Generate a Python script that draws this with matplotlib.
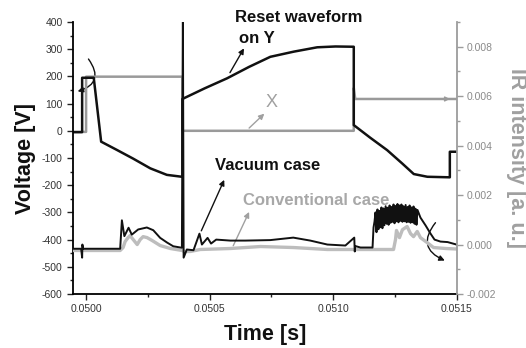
import matplotlib
matplotlib.use("Agg")
import matplotlib.pyplot as plt
from matplotlib.ticker import MultipleLocator, FormatStrFormatter
from matplotlib.patches import FancyArrowPatch

plt.rcParams['font.family'] = ['Liberation Sans', 'DejaVu Sans']
plt.rcParams['axes.unicode_minus'] = False

# ---- Reset waveform on Y (left axis, V) ----
t_y = [0.04995, 0.049984, 0.049984, 0.050031, 0.050061, 0.050124, 0.050190, 0.050260,
       0.050327, 0.050388, 0.05039, 0.05039, 0.050480, 0.050571, 0.050660, 0.050746,
       0.050841, 0.050936, 0.051010, 0.051084, 0.051084, 0.051150, 0.051219, 0.051280,
       0.051327, 0.051382, 0.051473, 0.051473, 0.0515]
v_y = [-5, -5, 195, 195, -40, -70, -102, -138,
       -162, -169, -170, 117, 156, 193, 235, 272,
       291, 307, 310, 309, 21, -25, -71, -120,
       -159, -169, -171, -77, -77]

# ---- X waveform (left axis, V) ----
t_x = [0.04995, 0.05, 0.05, 0.05039, 0.05039, 0.051084, 0.051084, 0.051090, 0.0515]
v_x = [-4, -4, 199, 199, 0, 0, 157, 117, 117]

# ---- IR intensity, vacuum case (right axis, a.u.) ----
band_t = [0.051172, 0.051176, 0.051180, 0.051184, 0.051188, 0.051192, 0.051196, 0.051200,
          0.051204, 0.051208, 0.051213, 0.051217, 0.051221, 0.051225, 0.051229, 0.051233,
          0.051237, 0.051241, 0.051245, 0.051249, 0.051253, 0.051257, 0.051261, 0.051265,
          0.051269, 0.051273, 0.051277, 0.051281, 0.051285, 0.051289, 0.051294, 0.051298,
          0.051302, 0.051306, 0.051310, 0.051314, 0.051318, 0.051322, 0.051326, 0.051330,
          0.051334, 0.051338, 0.051342]
band_v = [0.00130, 0.00050, 0.00142, 0.00062, 0.00136, 0.00070, 0.00150, 0.00066,
          0.00146, 0.00078, 0.00155, 0.00084, 0.00149, 0.00080, 0.00158, 0.00088,
          0.00152, 0.00092, 0.00162, 0.00086, 0.00156, 0.00094, 0.00164, 0.00090,
          0.00158, 0.00096, 0.00162, 0.00092, 0.00155, 0.00094, 0.00160, 0.00090,
          0.00152, 0.00092, 0.00158, 0.00088, 0.00150, 0.00090, 0.00154, 0.00084,
          0.00145, 0.00080, 0.00140]
t_vac = ([0.04995, 0.04998, 0.049984, 0.049985, 0.049988, 0.050138, 0.050145, 0.050155,
          0.050172, 0.050185, 0.050211, 0.050246, 0.050272, 0.050300, 0.050328, 0.050353,
          0.050388, 0.050392, 0.050395, 0.050408, 0.050435, 0.050459, 0.050469, 0.050492,
          0.050506, 0.050527, 0.050584, 0.050645, 0.050746, 0.050839, 0.050908, 0.050977,
          0.051050, 0.051086, 0.051088, 0.051090, 0.051111, 0.051160, 0.051164, 0.051168]
         + band_t +
         [0.051354, 0.051375, 0.051395, 0.051411, 0.051435, 0.051464, 0.0515])
ir_vac = ([-0.00017, -0.00017, -0.00053, 0.0, -0.00017, -0.00017, 0.00098, 0.00034,
           0.00068, 0.00040, 0.00061, 0.00069, 0.00058, 0.00027, 0.00008, -0.00007,
           -0.00013, 0.0095, -0.00053, -0.00020, -0.00023, 0.00044, 0.00000, 0.00027,
           0.00004, 0.00020, 0.00016, 0.00016, 0.00018, 0.00028, 0.00016, 0.00000,
           -0.00004, 0.00028, -0.00028, -0.00006, -0.00012, -0.00012, 0.00069, 0.00093]
          + band_v +
          [0.00109, 0.00077, 0.00044, 0.00020, 0.00012, 0.00010, 0.0])

# ---- IR intensity, conventional case (right axis, a.u.) ----
t_conv = [0.04995, 0.050138, 0.050150, 0.050158, 0.050170, 0.050178, 0.050191, 0.050207,
          0.050219, 0.050231, 0.050247, 0.050268, 0.050300, 0.050341, 0.050389, 0.050397,
          0.050422, 0.050462, 0.050584, 0.050706, 0.050839, 0.050977, 0.051111, 0.051245,
          0.051253, 0.051257, 0.051269, 0.051281, 0.051300, 0.051314, 0.051326, 0.051341,
          0.051354, 0.051381, 0.051407, 0.051456, 0.0515]
ir_conv = [-0.00024, -0.00024, -0.00012, 0.00012, 0.00028, 0.00036, 0.00020, 0.0,
           0.00020, 0.00032, 0.00028, 0.00016, -0.00004, -0.00016, -0.00024, -0.00028,
           -0.00028, -0.00020, -0.00016, -0.00008, -0.00012, -0.00020, -0.00020, -0.00020,
           0.00020, 0.00057, 0.00028, 0.00060, 0.00073, 0.00044, 0.00032, 0.00053,
           0.00028, 0.00008, -0.00012, -0.00016, -0.00018]

x_ticks = [0.0500, 0.0505, 0.0510, 0.0515]

BLACK = '#111111'
GRAY_X = '#9a9a9a'
GRAY_CONV = '#bdbdbd'
GRAY_AX = '#9c9c9c'

fig = plt.figure(figsize=(5.26, 3.48), dpi=100)
ax = fig.add_axes([73/526, 1-294/348, (456.5-73)/526, (294-22)/348])
ax2 = ax.twinx()

# IR signals on right axis
ax2.plot(t_conv, ir_conv, color=GRAY_CONV, lw=2.4, solid_joinstyle='round')
ax2.plot(t_vac, ir_vac, color=BLACK, lw=1.4, solid_joinstyle='round')
ax2.set_ylim(-0.002, 0.009)

# Waveforms on left axis
ax.plot(t_x, v_x, color=GRAY_X, lw=1.8)
ax.plot(t_y, v_y, color=BLACK, lw=1.8)
ax.set_ylim(-600, 400)
ax.set_xlim(0.049947, 0.0515)

# Ticks / spines
ax.set_xticks(x_ticks)
ax.xaxis.set_minor_locator(MultipleLocator(0.00025))
ax.xaxis.set_major_formatter(FormatStrFormatter('%.4f'))
ax.yaxis.set_major_locator(MultipleLocator(100))
ax.yaxis.set_minor_locator(MultipleLocator(50))
ax2.yaxis.set_major_locator(MultipleLocator(0.002))
ax2.yaxis.set_minor_locator(MultipleLocator(0.001))
ax2.yaxis.set_major_formatter(FormatStrFormatter('%.3f'))

for a in (ax, ax2):
    a.spines['top'].set_visible(False)
ax.spines['right'].set_visible(False)
ax2.spines['left'].set_visible(False)
ax2.spines['bottom'].set_visible(False)
ax2.spines['right'].set_color(GRAY_AX)
ax2.spines['right'].set_linewidth(1.3)
ax.spines['left'].set_linewidth(1.3)
ax.spines['bottom'].set_linewidth(1.3)

ax.tick_params(axis='both', which='major', direction='out', length=4, width=1,
               labelsize=7.5, colors='#222222')
ax.tick_params(axis='both', which='minor', direction='out', length=2.5, width=1, colors='#222222')
ax.tick_params(axis='both', labelcolor='#333333')
ax2.tick_params(axis='y', which='major', direction='out', length=4, width=1,
                labelsize=7.5, colors=GRAY_AX, labelcolor='#8a8a8a')
ax2.tick_params(axis='y', which='minor', direction='out', length=2.5, width=1, colors=GRAY_AX)

ax.set_xlabel('Time [s]', fontsize=15.5, fontweight='bold', color=BLACK, labelpad=7)
ax.set_ylabel('Voltage [V]', fontsize=15.5, fontweight='bold', color=BLACK, labelpad=4)
ax2.set_ylabel('IR intensity [a. u.]', fontsize=15.5, fontweight='bold', color='#a0a0a0',
               rotation=270, labelpad=22)

# Annotations (left-axis data coordinates)
ax.text(0.050604, 418, 'Reset waveform', fontsize=12, fontweight='bold', color=BLACK,
        va='center', ha='left', clip_on=False)
ax.text(0.050621, 340, 'on Y', fontsize=12, fontweight='bold', color=BLACK,
        va='center', ha='left')
ax.annotate('', xy=(0.050645, 312), xytext=(0.050577, 205),
            arrowprops=dict(arrowstyle='-|>', color=BLACK, lw=1.0, mutation_scale=8))

ax.text(0.050753, 103, 'X', fontsize=13, color='#a0a0a0', va='center', ha='center')
ax.annotate('', xy=(0.050730, 70), xytext=(0.050652, 3),
            arrowprops=dict(arrowstyle='-|>', color='#a0a0a0', lw=1.0, mutation_scale=8))

ax.text(0.050523, -126, 'Vacuum case', fontsize=12, fontweight='bold', color=BLACK,
        va='center', ha='left')
ax.annotate('', xy=(0.050564, -171), xytext=(0.050462, -377),
            arrowprops=dict(arrowstyle='-|>', color=BLACK, lw=1.0, mutation_scale=8))

ax.text(0.050635, -257, 'Conventional case', fontsize=12, fontweight='bold', color='#a8a8a8',
        va='center', ha='left')
ax.annotate('', xy=(0.050665, -289), xytext=(0.050591, -432),
            arrowprops=dict(arrowstyle='-|>', color='#a0a0a0', lw=1.0, mutation_scale=8))

# small arrowhead at end of X line
ax.annotate('', xy=(0.051485, 117), xytext=(0.05145, 117),
            arrowprops=dict(arrowstyle='-|>', color=GRAY_X, lw=1.0, mutation_scale=7))

# curved arrows indicating axes
arcL = FancyArrowPatch((0.050003, 272), (0.049955, 142), transform=ax.transData,
                       connectionstyle='arc3,rad=-0.75', arrowstyle='-|>',
                       mutation_scale=8, color=BLACK, lw=1.0, clip_on=False)
ax.add_patch(arcL)
arcR = FancyArrowPatch((0.051422, -330), (0.051463, -481), transform=ax.transData,
                       connectionstyle='arc3,rad=0.7', arrowstyle='-|>',
                       mutation_scale=8, color=BLACK, lw=1.0, clip_on=False)
ax.add_patch(arcR)
arcR.set_zorder(5)

fig.savefig('out.png', dpi=100)
